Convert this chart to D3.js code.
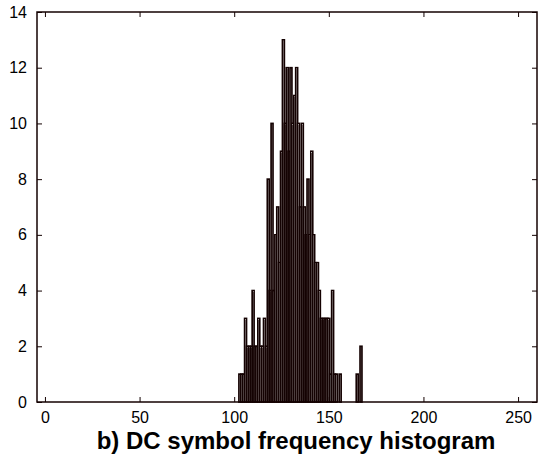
<!DOCTYPE html>
<html>
<head>
<meta charset="utf-8">
<script src="https://cdn.jsdelivr.net/npm/d3@7"></script>
<style>
  body { margin: 0; background: #fff; }
</style>
</head>
<body>
<div id="chart"></div>
<script>
// DC symbol values (bin centres) and how often each occurred
const symbols = [103, 104, 105, 106, 107, 108, 109, 110, 111, 112, 113, 114, 115, 116, 117, 118, 119, 120,
    121, 122, 123, 124, 125, 126, 127, 128, 129, 130, 131, 132, 133, 134, 135, 136, 137, 138, 139, 140,
    141, 142, 143, 144, 145, 146, 147, 148, 149, 150, 151, 152, 153, 154, 156, 165, 167];
const counts = [1, 1, 1, 3, 2, 2, 2, 4, 2, 2, 3, 2, 2, 3, 2, 8, 4, 10,
    4, 6, 7, 5, 9, 13, 10, 12, 9, 12, 10, 11, 12, 10, 7, 10, 7, 6, 8, 6,
    9, 6, 5, 5, 4, 3, 3, 3, 3, 3, 1, 4, 1, 1, 1, 1, 2];
const xTicks = [0, 50, 100, 150, 200, 250];
const yTicks = [0, 2, 4, 6, 8, 10, 12, 14];
const titleText = "b) DC symbol frequency histogram";

const width = 542, height = 458;
const margin = { top: 12, right: 5, bottom: 56, left: 37 };
const ink = "#140202";
const font = "'Liberation Sans', Arial, sans-serif";

const data = symbols.map((s, i) => ({ s: s, n: counts[i] }));

const svg = d3.select("#chart")
    .append("svg")
    .attr("width", width)
    .attr("height", height);

const x = d3.scaleLinear().domain([-4.2, 260]).range([margin.left, width - margin.right]);
const y = d3.scaleLinear().domain([0, 14]).range([height - margin.bottom, margin.top]);

// bars: white face, dark edge (matlab hist look)
svg.append("g")
    .selectAll("rect")
    .data(data)
    .join("rect")
    .attr("x", d => x(d.s - 0.5))
    .attr("width", d => x(d.s + 0.5) - x(d.s - 0.5))
    .attr("y", d => y(d.n))
    .attr("height", d => y(0) - y(d.n))
    .style("fill", "#fff")
    .style("stroke", ink)
    .style("stroke-width", "1.7px");

// bottom axis, ticks pointing in
svg.append("g")
    .attr("transform", "translate(0," + y(0) + ")")
    .call(d3.axisBottom(x).tickValues(xTicks).tickSize(-5).tickPadding(10).tickSizeOuter(0))
    .call(g => g.select(".domain").remove())
    .call(g => g.selectAll("line").style("stroke", ink))
    .call(g => g.selectAll("text").style("font-family", font).style("font-size", "16px").style("fill", "#000"));

// top axis ticks
svg.append("g")
    .attr("transform", "translate(0," + margin.top + ")")
    .call(d3.axisTop(x).tickValues(xTicks).tickSize(-5).tickFormat("").tickSizeOuter(0))
    .call(g => g.select(".domain").remove())
    .call(g => g.selectAll("line").style("stroke", ink));

// left axis
svg.append("g")
    .attr("transform", "translate(" + margin.left + ",0)")
    .call(d3.axisLeft(y).tickValues(yTicks).tickSize(-5).tickPadding(10).tickSizeOuter(0))
    .call(g => g.select(".domain").remove())
    .call(g => g.selectAll("line").style("stroke", ink))
    .call(g => g.selectAll("text").style("font-family", font).style("font-size", "16px").style("fill", "#000"));

// right axis ticks
svg.append("g")
    .attr("transform", "translate(" + (width - margin.right) + ",0)")
    .call(d3.axisRight(y).tickValues(yTicks).tickSize(-5).tickFormat("").tickSizeOuter(0))
    .call(g => g.select(".domain").remove())
    .call(g => g.selectAll("line").style("stroke", ink));

// axes box
svg.append("rect")
    .attr("x", margin.left)
    .attr("y", margin.top)
    .attr("width", width - margin.right - margin.left)
    .attr("height", y(0) - margin.top)
    .style("fill", "none")
    .style("stroke", ink)
    .style("stroke-width", "1.5px");

svg.append("text")
    .attr("x", 296)
    .attr("y", 449)
    .style("text-anchor", "middle")
    .style("font-family", font)
    .style("font-weight", "bold")
    .style("font-size", "24px")
    .style("fill", "#000")
    .text(titleText);
</script>
</body>
</html>
